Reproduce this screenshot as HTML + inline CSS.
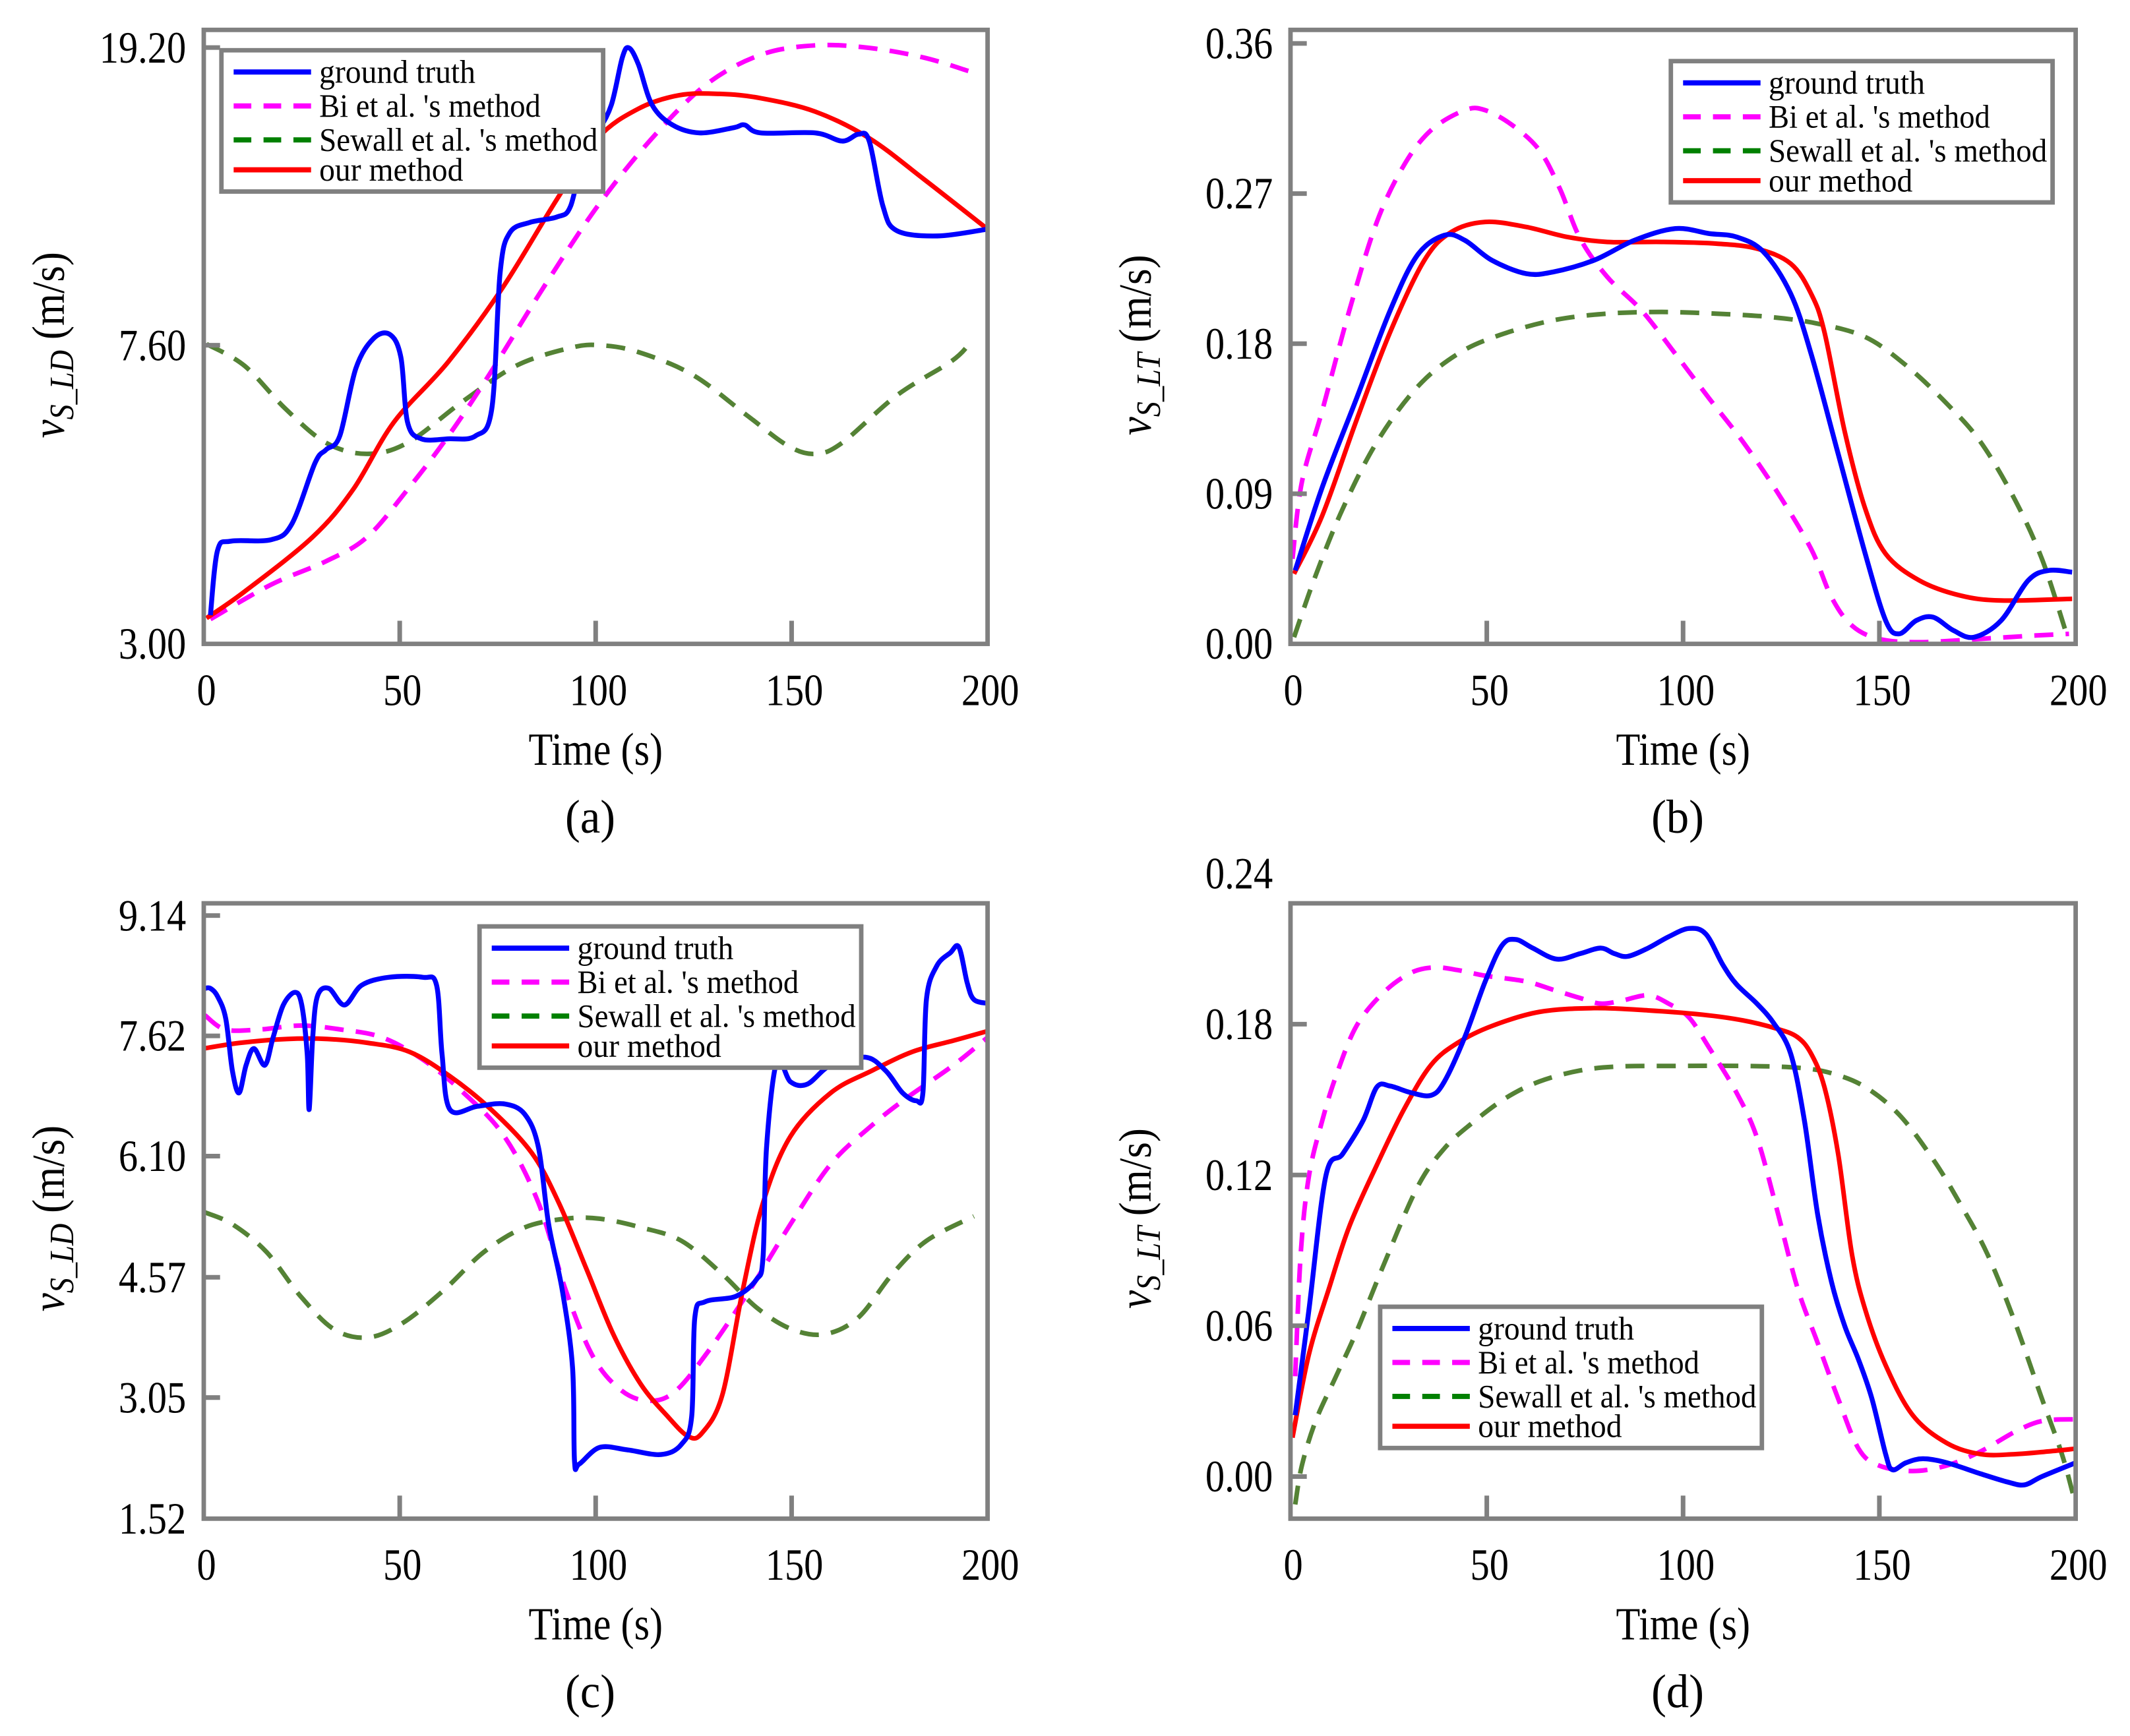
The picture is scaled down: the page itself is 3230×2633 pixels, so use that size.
<!DOCTYPE html>
<html><head><meta charset="utf-8"><style>
html,body{margin:0;padding:0;background:#fff;}
svg{display:block;}
text{font-family:"Liberation Serif",serif;fill:#000;}
</style></head><body>
<svg id="fig" xmlns="http://www.w3.org/2000/svg" width="3230" height="2633" viewBox="0 0 1568 1278" preserveAspectRatio="none"></svg>
<script>
// ---------- data (time in s, values in m/s) ----------
// panel a
const aGtT=[1.7,3.5,6.9,17.3,22.5,28.4,31.2,34.7,38.8,43.3,47.5,50.3,52,55.5,62.4,69.3,73.5,75.6,78,83.2,90.1,93.6,97,100.5,104,106.8,108.5,110.9,114.4,119.6,126.5,135.2,138,142.1,156,162.9,167.1,169.8,173.3,176.8,187.2,200];
const aGtV=[3.28,4.01,4.13,4.15,4.36,5.27,5.49,5.73,7.07,7.76,7.86,7.32,5.98,5.68,5.68,5.73,6.24,9.5,10.77,11.14,11.33,11.72,13.87,14.77,16.06,18.61,19.18,18.22,16.06,15.09,14.72,14.96,15.09,14.72,14.72,14.35,14.66,14.35,11.72,10.86,10.68,10.91];
const aBiT=[1.7,17.3,31.2,41.6,52,62.4,72.8,86.7,100.5,114.4,128.2,142.1,156,169.8,183.7,195.1];
const aBiV=[3.24,3.61,3.88,4.18,4.85,5.73,6.93,9.1,11.72,14.48,17.11,18.77,19.33,19.18,18.61,17.85];
const aSwT=[0.7,10.4,20.8,31.2,41.6,52,65.9,79.7,93.6,101.2,110.9,124.8,138.6,149,156,162.9,176.8,190.6,195.1];
const aSwV=[7.63,7.13,6.24,5.61,5.42,5.61,6.37,7.13,7.54,7.6,7.44,6.93,6.11,5.56,5.42,5.61,6.5,7.22,7.6];
const aOurT=[0.7,10.4,27.7,38.1,48.5,62.4,76.3,90.1,100.5,110.9,121.3,131.7,142.1,156,169.8,183.7,200];
const aOurV=[3.25,3.53,4.18,4.85,5.98,7.22,9.1,11.97,14.48,15.87,16.55,16.62,16.4,15.73,14.48,12.75,10.91];
// panel b
const bGtT=[1.2,8.1,16.8,25.4,32.3,39.2,44.4,51.3,60,66.9,77.3,87.6,98,106.7,113.6,120.5,127.4,132.6,139.5,146.4,151.6,155,159.4,163.7,168.9,174.1,181,187.9,193.1,199.1];
const bGtV=[0.044,0.094,0.147,0.2,0.233,0.245,0.242,0.23,0.222,0.223,0.23,0.242,0.249,0.246,0.244,0.235,0.21,0.174,0.114,0.054,0.014,0.006,0.014,0.016,0.008,0.004,0.014,0.038,0.044,0.043];
const bBiT=[0.5,2.9,8.1,15,22,28.9,35.8,44.4,49.6,56.5,63.4,68.6,73.8,80.7,89.4,98,106.7,115.3,124,132.6,137.8,143,149.9,160.2,175.8,189.6,198.3];
const bBiV=[0.051,0.097,0.14,0.2,0.253,0.287,0.308,0.32,0.32,0.311,0.296,0.273,0.243,0.22,0.2,0.174,0.147,0.121,0.091,0.057,0.028,0.011,0.003,0.001,0.003,0.005,0.006];
const bSwT=[0.9,6.4,13.3,22,32.3,42.7,53.1,66.9,80.7,94.6,108.4,122.2,134.3,146.4,156.8,167.2,175.8,184.4,191.4,197.4];
const bSwV=[0.004,0.041,0.081,0.121,0.154,0.174,0.185,0.194,0.198,0.199,0.198,0.196,0.192,0.184,0.167,0.144,0.121,0.087,0.051,0.008];
const bOurT=[0.9,8.1,16.8,25.4,34.1,41,49.6,60,70.4,80.7,94.6,108.4,118.8,127.4,132.6,136,141.2,146.4,151.6,160.2,170.6,181,199.1];
const bOurV=[0.042,0.077,0.134,0.187,0.23,0.247,0.253,0.25,0.244,0.241,0.241,0.24,0.237,0.228,0.21,0.187,0.127,0.081,0.054,0.038,0.029,0.026,0.027];
// panel c
const cGtT=[0.3,1.7,3.5,5.6,7.3,9,10.8,12.8,15.6,17.7,20.3,23.3,25,26.4,26.9,27.8,29,31.9,35.9,40.3,47.2,55.9,59.4,60.8,62.8,69.8,76.7,81.9,85.4,88,91.5,94.1,94.6,95.8,101,108,116.7,121.9,124.5,125.3,127.9,135.8,141,142.7,143.6,146.2,149.7,154,160,168.8,174,178.3,181.8,183.5,184.4,187,190.5,192.7,194.8,196.5,200];
const cGtV=[8.22,8.22,8.12,7.84,7.18,6.9,7.25,7.46,7.25,7.6,8.01,8.17,8.01,7.39,6.69,7.6,8.12,8.22,8.01,8.26,8.36,8.36,8.26,7.39,6.69,6.73,6.76,6.63,6.21,5.24,4.4,3.43,2.25,2.21,2.42,2.39,2.33,2.46,2.81,4.06,4.26,4.33,4.54,4.82,6.21,7.29,7.04,7.01,7.25,7.35,7.18,6.9,6.8,6.9,8.08,8.5,8.67,8.74,8.29,8.08,8.03];
const cBiT=[0.3,5.5,14.2,24.7,35,45.5,55.9,66.3,76.7,85.4,92.4,99.3,106.3,113.2,120.1,128.8,139.2,149.7,160,170.5,179.2,191.3,200];
const cBiV=[7.88,7.7,7.7,7.75,7.7,7.6,7.32,6.9,6.35,5.51,4.4,3.57,3.15,3.01,3.12,3.64,4.4,5.24,6.0,6.49,6.83,7.25,7.6];
const cSwT=[0.3,7.3,16,24.7,33.3,42,50.7,61.1,71.5,81.9,92.4,101,111.5,121.9,132.3,141,149.7,158.3,167,175.7,184.4,196.5];
const cSwV=[5.39,5.24,4.89,4.33,3.91,3.81,3.99,4.4,4.89,5.2,5.31,5.31,5.2,5.03,4.61,4.19,3.92,3.85,4.06,4.61,5.03,5.34];
const cOurT=[0,9,21.2,31.6,42,52.4,62.8,73.3,83.7,90.6,97.6,104.5,111.5,118.4,123.6,127.1,132.3,137.5,142.7,149.7,160,170.5,180.9,191.3,200];
const cOurV=[7.46,7.53,7.58,7.58,7.53,7.42,7.11,6.69,6.14,5.51,4.68,3.85,3.22,2.81,2.56,2.6,3.08,4.4,5.51,6.35,6.9,7.18,7.42,7.56,7.68];
// panel d
const dGtT=[1.2,4.7,9,13.3,18.5,22,25.4,30.6,35.8,39.2,44.4,49.6,53.9,57.4,61.7,67.8,73.8,79,82.5,85.9,91.1,96.3,101.5,105.8,110.1,113.6,118.8,123.1,127.4,130.9,134.3,137.8,141.2,144.7,148.1,151.6,153.3,156.8,161.1,167.2,175.8,182.7,187,191.4,200];
const dGtV=[0.0244,0.0664,0.1196,0.1284,0.1417,0.155,0.1554,0.1528,0.1517,0.1572,0.1749,0.197,0.2114,0.2137,0.2103,0.2059,0.2081,0.2103,0.2081,0.207,0.2103,0.2148,0.2181,0.2159,0.2037,0.1959,0.1882,0.1804,0.1683,0.1417,0.1041,0.0775,0.0598,0.0465,0.031,0.0089,0.0027,0.0055,0.0071,0.0055,0.0011,-0.0022,-0.0033,0.0,0.0055];
const dBiT=[1.2,2.6,4.7,8.1,11.6,16.8,23.7,30.6,36.6,42.7,49.6,60,66.9,73.8,79,84.2,91.1,96.3,101.5,106.7,113.6,118.8,123.9,129.1,134.3,139.5,144.7,149.9,158.5,167.2,175.8,184.4,191.4,200];
const dBiV=[0.0399,0.0886,0.1196,0.1417,0.1594,0.1793,0.1926,0.2004,0.2026,0.2015,0.1993,0.197,0.1937,0.1904,0.1882,0.1893,0.1915,0.1882,0.1827,0.1705,0.1528,0.135,0.1063,0.0753,0.0531,0.031,0.0111,0.0044,0.0022,0.0044,0.01,0.0177,0.0221,0.0228];
const dSwT=[1.2,2.9,6.4,11.6,16.8,23.7,32.3,39.2,46.2,54.8,63.4,73.8,84.2,98,115.3,129.1,137.8,146.4,155.1,163.7,170.6,177.5,184.4,191.4,196.5,200];
const dSwV=[-0.0111,0.0044,0.0221,0.0399,0.0576,0.0841,0.1151,0.1306,0.1406,0.1506,0.1572,0.1616,0.1632,0.1634,0.1634,0.1627,0.1605,0.155,0.1439,0.1262,0.1085,0.0886,0.062,0.031,0.0089,-0.0111];
const dOurT=[0.5,4.7,9.9,15,22,28.9,35.8,42.7,51.3,63.4,77.3,91.1,104.9,115.3,123.9,129.1,132.6,136,139.5,143,146.4,151.6,158.5,167.2,175.8,184.4,193.1,200];
const dOurV=[0.0155,0.0487,0.0753,0.0996,0.124,0.1461,0.1638,0.1727,0.1793,0.1849,0.1864,0.1855,0.1838,0.1815,0.1782,0.1749,0.1683,0.155,0.1284,0.0886,0.0664,0.0443,0.0244,0.0133,0.0089,0.0089,0.01,0.0111];

const aTicks=["3.00","7.60","19.20"];
const bTicks=["0.00","0.09","0.18","0.27","0.36"];
const cTicks=["1.52","3.05","4.57","6.10","7.62","9.14"];
const dTicks=["0.00","0.06","0.12","0.18","0.24"];
const xTicks=[0,50,100,150,200];
const legendLabels=["ground truth","Bi et al. 's method","Sewall et al. 's method","our method"];

// ---------- drawing ----------
const NS="http://www.w3.org/2000/svg";
const svg=document.getElementById('fig');
function el(tag,attrs,parent){const e=document.createElementNS(NS,tag);for(const k in attrs)e.setAttribute(k,attrs[k]);(parent||svg).appendChild(e);return e;}
function smoothPath(pts){
  let d='M'+pts[0][0].toFixed(2)+','+pts[0][1].toFixed(2);
  for(let i=0;i<pts.length-1;i++){
    const p0=pts[Math.max(0,i-1)],p1=pts[i],p2=pts[i+1],p3=pts[Math.min(pts.length-1,i+2)];
    const c1x=p1[0]+(p2[0]-p0[0])/6,c1y=p1[1]+(p2[1]-p0[1])/6;
    const c2x=p2[0]-(p3[0]-p1[0])/6,c2y=p2[1]-(p3[1]-p1[1])/6;
    d+='C'+c1x.toFixed(2)+','+c1y.toFixed(2)+' '+c2x.toFixed(2)+','+c2y.toFixed(2)+' '+p2[0].toFixed(2)+','+p2[1].toFixed(2);
  }
  return d;
}
const COLORS={gt:'#0000ff',bi:'#ff00ff',sw:'#548235',our:'#ff0000'};
function label(parent,x,y,size,anchor,txt,sx){
  const t=el('text',{transform:'translate('+x+','+y+') scale('+(sx||0.86)+',1)','font-size':size,'text-anchor':anchor},parent);
  t.textContent=txt;
  return t;
}

function panel(cfg){
  const g=el('g',{});
  
  
  const L=cfg.x0,R=cfg.x1,T=cfg.y0,B=cfg.y1;
  const sx=t=>L+(t/200)*(R-L);
  const sy=cfg.sy;
  const clipId='clip-'+cfg.id;
  const cp=el('clipPath',{id:clipId},g);el('rect',{x:L,y:T,width:R-L,height:B-T},cp);
  const series=[['bi',cfg.bi,'14 9',3.4],['sw',cfg.sw,'14 9',3.4],['our',cfg.our,null,3.4],['gt',cfg.gt,null,3.6]];
  ['sw','bi','our','gt'].forEach(key=>{
    const s=series.find(q=>q[0]===key);
    const pts=s[1][0].map((t,i)=>[sx(t),sy(s[1][1][i])]);
    const p=el('path',{d:smoothPath(pts),fill:'none',stroke:COLORS[key],'stroke-width':s[3],'clip-path':'url(#'+clipId+')','stroke-linejoin':'round'},g);
    if(s[2])p.setAttribute('stroke-dasharray',s[2]);
    
    
  });
  const fr=el('rect',{x:L,y:T,width:R-L,height:B-T,fill:'none',stroke:'#808080','stroke-width':3.3},g);
  
  
  cfg.yTicks.forEach(lab=>{
    const y=sy(parseFloat(lab));
    if(y>T+4&&y<B-4){
      const tk=el('line',{x1:L,x2:L+12,y1:y,y2:y,stroke:'#808080','stroke-width':3.4},g);
      
      
    }
    const tx=label(g,L-13,y+11,33,'end',lab);
    
    
  });
  xTicks.forEach(v=>{
    const x=sx(v);
    if(v>0&&v<200){
      const tk=el('line',{x1:x,x2:x,y1:B,y2:B-17,stroke:'#808080','stroke-width':3.4},g);
      
      
    }
    const tx=label(g,x+2,B+45,33,'middle',String(v));
    
    
  });
  const xt=label(g,(L+R)/2,B+89,34,'middle','Time (s)');
  
  
  const pl=label(g,(L+R)/2-4,B+139,35,'middle','('+cfg.id+')',0.95);
  
  
  const yt=el('text',{transform:'translate('+(L-103)+','+(T+cfg.ylabC)+') rotate(-90) scale(0.9,1)','font-size':34,'text-anchor':'middle'},g);
  
  
  const t1=el('tspan',{'font-style':'italic'},yt);t1.textContent='v';
  const t2=el('tspan',{'font-style':'italic','font-size':25,dy:7},yt);t2.textContent=cfg.sub;
  const t3=el('tspan',{dy:-7},yt);t3.textContent=' (m/s)';
  const lg=el('g',{},g);
  
  
  const lx=cfg.lx,ly=cfg.ly;
  el('rect',{x:lx,y:ly,width:281,height:104,fill:'#fff',stroke:'#808080','stroke-width':3.3},lg);
  const keys=['gt','bi','sw','our'];const lcol={gt:'#0000ff',bi:'#ff00ff',sw:'#008000',our:'#ff0000'};
  const offs=[16,41,66,88];const tl=[115,163,205,106];
  keys.forEach((k,i)=>{
    const ent=el('g',{},lg);
    
    
    const ln=el('line',{x1:lx+9,x2:lx+66,y1:ly+offs[i],y2:ly+offs[i],stroke:lcol[k],'stroke-width':3.8},ent);
    if(k==='bi'||k==='sw')ln.setAttribute('stroke-dasharray','13 9');
    const tx=el('text',{x:lx+72,y:ly+offs[i]+8,'font-size':24,textLength:tl[i],lengthAdjust:'spacingAndGlyphs'},ent);
    tx.textContent=legendLabels[i];
  });
}

function linY(v0,v1,yTop,yBot){return v=>yBot-(v-v0)/(v1-v0)*(yBot-yTop);}
const aLog=v=>474-(Math.log(v)-Math.log(3))/(Math.log(19.2)-Math.log(3))*(474-35);
panel({id:'a',x0:150,x1:727,y0:22,y1:474,sy:aLog,yTicks:aTicks,sub:'S_LD',ylabC:232,lx:163,ly:37,
  gt:[aGtT,aGtV],bi:[aBiT,aBiV],sw:[aSwT,aSwV],our:[aOurT,aOurV]});
panel({id:'b',x0:950,x1:1528,y0:22,y1:474,sy:linY(0,0.36,32,474),yTicks:bTicks,sub:'S_LT',ylabC:232,lx:1230,ly:45,
  gt:[bGtT,bGtV],bi:[bBiT,bBiV],sw:[bSwT,bSwV],our:[bOurT,bOurV]});
panel({id:'c',x0:150,x1:727,y0:665,y1:1118,sy:linY(1.52,9.14,674,1118),yTicks:cTicks,sub:'S_LD',ylabC:232,lx:353,ly:682,
  gt:[cGtT,cGtV],bi:[cBiT,cBiV],sw:[cSwT,cSwV],our:[cOurT,cOurV]});
panel({id:'d',x0:950,x1:1528,y0:665,y1:1118,sy:linY(0,0.24,643,1087),yTicks:dTicks,sub:'S_LT',ylabC:232,lx:1016,ly:962,
  gt:[dGtT,dGtV],bi:[dBiT,dBiV],sw:[dSwT,dSwV],our:[dOurT,dOurV]});
</script>
</body></html>
